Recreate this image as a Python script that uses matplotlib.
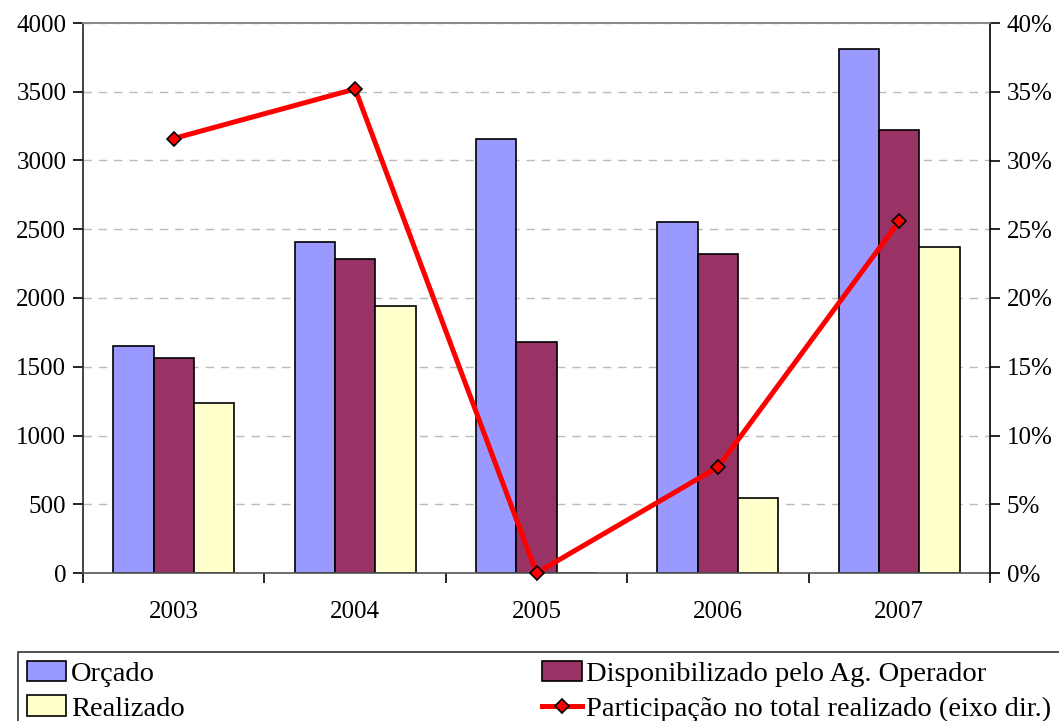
import matplotlib
matplotlib.use("Agg")
import matplotlib.pyplot as plt
import numpy as np
from matplotlib.ticker import FuncFormatter, MultipleLocator

years = ["2003", "2004", "2005", "2006", "2007"]
orcado = [1651, 2407, 3156, 2553, 3811]
disponibilizado = [1564, 2284, 1680, 2320, 3222]
realizado = [1236, 1942, 0, 545, 2371]
participacao = [31.6, 35.2, 0.0, 7.7, 25.6]

plt.rcParams['font.family'] = ['Liberation Serif', 'DejaVu Serif']
fs = 18
lfs = 20.5

fig = plt.figure(figsize=(10.59, 7.21), dpi=100)
ax = fig.add_axes([83/1059, 1-573/721, (990-83)/1059, (573-23)/721])
ax2 = ax.twinx()

x = np.arange(len(years))
w = 0.222
ax.bar(x - w, orcado, w, color="#9999FF", edgecolor="black", linewidth=1.2, label="Orçado", zorder=2)
ax.bar(x, disponibilizado, w, color="#993366", edgecolor="black", linewidth=1.2, label="Disponibilizado pelo Ag. Operador", zorder=2)
ax.bar(x + w, realizado, w, color="#FFFFCC", edgecolor="black", linewidth=1.2, label="Realizado", zorder=2)

ax2.plot(x, participacao, color="#FF0000", linewidth=3.6, marker="D", markersize=7.5,
         markerfacecolor="#FF0000", markeredgecolor="black", markeredgewidth=1.2,
         label="Participação no total realizado (eixo dir.)", zorder=3, clip_on=False)

ax.set_xlim(-0.5, len(years) - 0.5)
ax.set_ylim(0, 4000)
ax.yaxis.set_major_locator(MultipleLocator(500))
ax2.set_ylim(0, 40)
ax2.yaxis.set_major_locator(MultipleLocator(5))
ax2.yaxis.set_major_formatter(FuncFormatter(lambda v, p: f"{int(round(v))}%"))

ax.yaxis.grid(True, linestyle=(0, (6, 5)), color="#BBBBBB", linewidth=1, zorder=0)
ax.set_axisbelow(True)

ax.set_xticks(x)
ax.set_xticklabels(years)
ax.set_xticks(np.arange(-0.5, len(years)), minor=True)
ax.tick_params(axis='x', which='major', length=0, pad=20, labelsize=fs)
ax.tick_params(axis='x', which='minor', length=7, width=1.2, direction='out', color="black")
ax.tick_params(axis='y', length=7, width=1.2, direction='out', labelsize=fs, pad=5)
ax2.tick_params(axis='y', length=7, width=1.2, direction='out', labelsize=fs, pad=5)

ax.spines["top"].set_color("#888888")
ax2.spines["top"].set_color("#888888")
ax.spines["bottom"].set_color("#555555")
ax2.spines["bottom"].set_visible(False)
ax.spines["left"].set_color("#222222")
ax2.spines["left"].set_visible(False)
ax.spines["right"].set_visible(False)
ax2.spines["right"].set_color("black")
for sp in list(ax.spines.values()) + list(ax2.spines.values()):
    sp.set_linewidth(1.2)

h1, l1 = ax.get_legend_handles_labels()
h2, l2 = ax2.get_legend_handles_labels()
handles = [h1[0], h1[2], h1[1], h2[0]]
labels = [l1[0], l1[2], l1[1], l2[0]]
leg = fig.legend(handles, labels, ncol=2, loc="upper left",
                 bbox_to_anchor=(18/1059, 1-652/721), frameon=True, fancybox=False,
                 edgecolor="black", fontsize=lfs,
                 handlelength=1.4, handleheight=0.75, handletextpad=0.15,
                 borderaxespad=0, borderpad=0.3, labelspacing=0.3, columnspacing=12.55)
leg.get_frame().set_linewidth(1.2)

fig.savefig("out.png", dpi=100)
